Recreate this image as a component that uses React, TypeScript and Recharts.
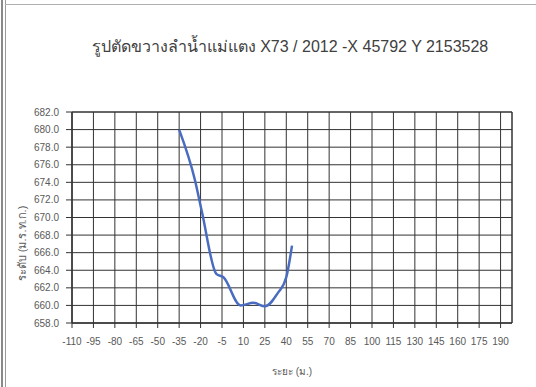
import React from 'react';
import { LineChart, Line, XAxis, YAxis, CartesianGrid, ReferenceArea, Label } from 'recharts';

const distances = [-35, -24, -19, -9, -4, 8, 17, 25, 34, 40, 44];
const levels = [680.0, 674.3, 670.6, 663.6, 663.2, 660.0, 660.3, 659.9, 661.4, 663.2, 666.8];
const xTicks = [-110, -95, -80, -65, -50, -35, -20, -5, 10, 25, 40, 55, 70, 85, 100, 115, 130, 145, 160, 175, 190];
const yTicks = [658, 660, 662, 664, 666, 668, 670, 672, 674, 676, 678, 680, 682];
const title = 'รูปตัดขวางลำน้ำแม่แตง X73 / 2012 -X 45792 Y 2153528';
const xTitle = 'ระยะ (ม.)';
const yTitle = 'ระดับ (ม.ร.ท.ก.)';

const data = distances.map((d, i) => ({ x: d, y: levels[i] }));

const font = '"Liberation Sans", "DejaVu Sans", "Noto Sans", sans-serif';

export default function App() {
  return (
    <div style={{ position: 'absolute', left: 0, top: 0, width: 536, height: 387, background: '#fff', fontFamily: font }}>
      <div style={{ position: 'absolute', left: 1, top: 0, width: 2, height: 387, background: '#8a8a8a' }} />
      <div style={{ position: 'absolute', left: 5, top: 0, width: 1, height: 387, background: '#9a9a9a' }} />
      <div style={{ position: 'absolute', left: 5, top: 4, width: 531, height: 1, background: '#b0b0b0' }} />
      <div style={{ position: 'absolute', left: 0, top: 34, width: 580, textAlign: 'center', fontSize: 16, color: '#404040' }}>{title}</div>
      <LineChart
        width={536}
        height={387}
        data={data}
        margin={{ top: 112, right: 24, bottom: 8, left: 0 }}
        style={{ position: 'absolute', left: 0, top: 0 }}
      >
        <CartesianGrid stroke="#333333" strokeWidth={1} />
        <XAxis
          type="number"
          dataKey="x"
          domain={[-110, 198]}
          ticks={xTicks}
          interval={0}
          height={56}
          tick={{ fontSize: 10, fill: '#595959', fontFamily: font, dy: 8 }}
          tickLine={{ stroke: '#333333' }}
          tickSize={5}
          axisLine={{ stroke: '#333333' }}
        >
          <Label value={xTitle} position="insideBottom" offset={4} style={{ fontSize: 10, fill: '#595959', fontFamily: font }} />
        </XAxis>
        <YAxis
          type="number"
          dataKey="y"
          domain={[658, 682]}
          ticks={yTicks}
          interval={0}
          width={72}
          tickFormatter={(v: number) => v.toFixed(1)}
          tick={{ fontSize: 10, fill: '#595959', fontFamily: font, dx: -5 }}
          tickLine={{ stroke: '#333333' }}
          tickSize={6}
          axisLine={{ stroke: '#333333' }}
        >
          <Label value={yTitle} angle={-90} position="insideLeft" offset={22} dy={26} style={{ fontSize: 11, fill: '#595959', fontFamily: font, textAnchor: 'middle' }} />
        </YAxis>
        <ReferenceArea x1={-110} x2={198} y1={658} y2={682} fill="none" stroke="#333333" strokeWidth={1} ifOverflow="visible" />
        <Line
          type="monotone"
          dataKey="y"
          stroke="#4a6cc0"
          strokeWidth={2.5}
          dot={false}
          isAnimationActive={false}
        />
      </LineChart>
    </div>
  );
}
